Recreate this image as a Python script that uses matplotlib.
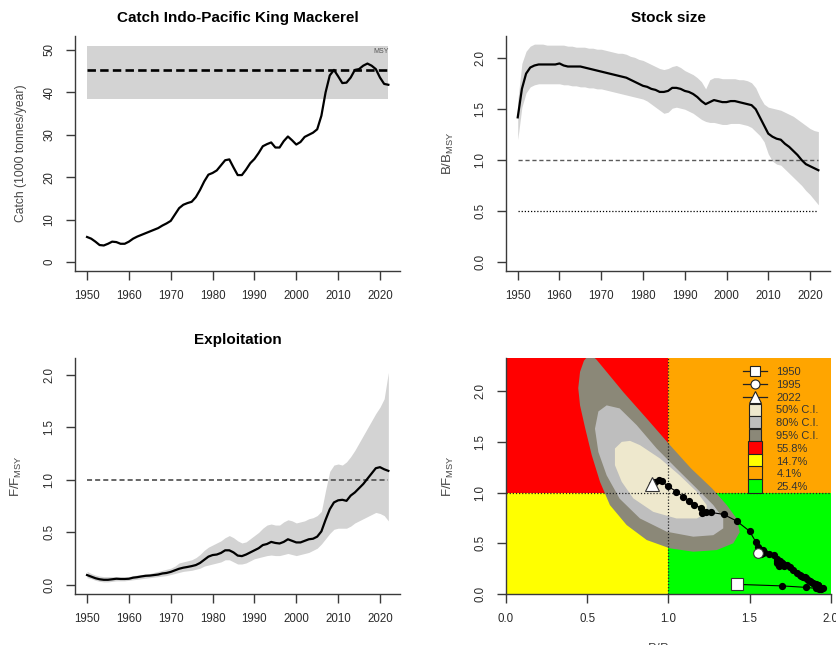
import numpy as np
import matplotlib
matplotlib.use("Agg")
import matplotlib.pyplot as plt
from matplotlib.lines import Line2D
from matplotlib.patches import Rectangle, Polygon

plt.rcParams['font.family'] = ['Liberation Sans', 'DejaVu Sans']
plt.rcParams['mathtext.fontset'] = 'custom'
plt.rcParams['mathtext.rm'] = 'Liberation Sans'
plt.rcParams['mathtext.it'] = 'Liberation Sans'

# ---------------- data ----------------
years = np.arange(1950, 2023)

catch = [5.9, 5.5, 4.8, 4.0, 3.9, 4.3, 4.8, 4.7, 4.3, 4.3,
         4.8, 5.5, 6.0, 6.4, 6.8, 7.2, 7.6, 8.0, 8.6, 9.1,
         9.7, 11.2, 12.7, 13.5, 13.9, 14.2, 15.3, 17.0, 19.0, 20.6,
         21.0, 21.6, 22.8, 24.0, 24.2, 22.3, 20.5, 20.5, 21.8, 23.3,
         24.3, 25.7, 27.3, 27.8, 28.2, 27.0, 27.0, 28.5, 29.6, 28.7,
         27.7, 28.3, 29.5, 30.0, 30.5, 31.3, 34.5, 40.0, 44.0, 45.3,
         43.8, 42.2, 42.3, 43.5, 45.3, 45.5, 46.3, 46.8, 46.3, 45.5,
         43.5, 42.0, 41.8]
msy = 45.3
msy_lo = 38.4
msy_hi = 51.0

bbmsy = [1.42, 1.70, 1.85, 1.91, 1.93, 1.94, 1.94, 1.94, 1.94, 1.94,
         1.95, 1.93, 1.92, 1.92, 1.92, 1.92, 1.91, 1.90, 1.89, 1.88,
         1.87, 1.86, 1.85, 1.84, 1.83, 1.82, 1.81, 1.79, 1.77, 1.75,
         1.73, 1.72, 1.70, 1.69, 1.67, 1.67, 1.68, 1.71, 1.71, 1.70,
         1.68, 1.67, 1.65, 1.62, 1.58, 1.55, 1.57, 1.59, 1.58, 1.57,
         1.57, 1.58, 1.58, 1.57, 1.56, 1.55, 1.54, 1.50, 1.42, 1.34,
         1.26, 1.23, 1.21, 1.20, 1.16, 1.13, 1.09, 1.05, 1.00, 0.96,
         0.94, 0.92, 0.90]
bb_hi = [1.58, 1.95, 2.07, 2.12, 2.14, 2.14, 2.14, 2.13, 2.13, 2.13,
         2.13, 2.13, 2.12, 2.12, 2.11, 2.11, 2.11, 2.10, 2.10, 2.09,
         2.09, 2.08, 2.07, 2.06, 2.05, 2.05, 2.04, 2.02, 2.01, 1.99,
         1.98, 1.96, 1.94, 1.92, 1.90, 1.89, 1.90, 1.92, 1.93, 1.91,
         1.88, 1.86, 1.84, 1.81, 1.77, 1.70, 1.79, 1.81, 1.81, 1.80,
         1.80, 1.80, 1.80, 1.79, 1.79, 1.78, 1.76, 1.71, 1.62, 1.55,
         1.52, 1.51, 1.50, 1.49, 1.47, 1.45, 1.43, 1.40, 1.37, 1.34,
         1.31, 1.29, 1.28]
bb_lo = [1.20, 1.52, 1.66, 1.72, 1.74, 1.75, 1.75, 1.75, 1.75, 1.75,
         1.75, 1.74, 1.74, 1.73, 1.73, 1.72, 1.72, 1.71, 1.71, 1.70,
         1.70, 1.69, 1.68, 1.67, 1.66, 1.65, 1.64, 1.63, 1.62, 1.61,
         1.60, 1.58, 1.55, 1.52, 1.49, 1.46, 1.47, 1.51, 1.52, 1.51,
         1.50, 1.48, 1.46, 1.43, 1.40, 1.38, 1.37, 1.37, 1.36, 1.35,
         1.35, 1.36, 1.36, 1.36, 1.35, 1.34, 1.32, 1.28, 1.24, 1.18,
         1.06, 0.99, 0.96, 0.95, 0.91, 0.87, 0.83, 0.79, 0.75, 0.70,
         0.66, 0.61, 0.56]

ffmsy = [0.095, 0.080, 0.065, 0.055, 0.050, 0.050, 0.055, 0.060, 0.058, 0.058,
         0.060, 0.070, 0.075, 0.082, 0.088, 0.090, 0.095, 0.100, 0.110, 0.115,
         0.125, 0.140, 0.155, 0.165, 0.172, 0.180, 0.190, 0.210, 0.240, 0.270,
         0.285, 0.290, 0.305, 0.330, 0.330, 0.310, 0.280, 0.275, 0.290, 0.310,
         0.330, 0.350, 0.380, 0.390, 0.410, 0.400, 0.395, 0.410, 0.435, 0.420,
         0.405, 0.405, 0.420, 0.435, 0.440, 0.460, 0.510, 0.620, 0.720, 0.785,
         0.805, 0.810, 0.800, 0.850, 0.880, 0.920, 0.960, 1.010, 1.060, 1.110,
         1.120, 1.100, 1.085]
ff_hi = [0.13, 0.11, 0.095, 0.085, 0.08, 0.08, 0.08, 0.08, 0.075, 0.075,
         0.08, 0.09, 0.095, 0.10, 0.105, 0.11, 0.12, 0.13, 0.14, 0.15,
         0.16, 0.18, 0.21, 0.22, 0.23, 0.24, 0.26, 0.29, 0.33, 0.36,
         0.38, 0.40, 0.42, 0.45, 0.47, 0.45, 0.42, 0.40, 0.41, 0.44,
         0.47, 0.50, 0.54, 0.57, 0.58, 0.57, 0.57, 0.60, 0.62, 0.61,
         0.59, 0.60, 0.61, 0.63, 0.64, 0.66, 0.70, 0.90, 1.08, 1.14,
         1.15, 1.14, 1.17, 1.22, 1.28, 1.35, 1.42, 1.49, 1.56, 1.63,
         1.69, 1.77, 2.02]
ff_lo = [0.07, 0.06, 0.045, 0.035, 0.03, 0.03, 0.035, 0.04, 0.04, 0.04,
         0.045, 0.05, 0.055, 0.06, 0.065, 0.07, 0.075, 0.08, 0.085, 0.09,
         0.10, 0.11, 0.12, 0.13, 0.135, 0.14, 0.15, 0.16, 0.18, 0.19,
         0.20, 0.21, 0.22, 0.24, 0.24, 0.22, 0.20, 0.20, 0.21, 0.23,
         0.25, 0.26, 0.27, 0.28, 0.285, 0.28, 0.28, 0.29, 0.30, 0.29,
         0.28, 0.29, 0.30, 0.31, 0.33, 0.35, 0.39, 0.44, 0.49, 0.53,
         0.54, 0.54, 0.54, 0.56, 0.59, 0.61, 0.63, 0.65, 0.67, 0.69,
         0.68, 0.66, 0.61]

# Kobe confidence contours (B/Bmsy, F/Fmsy)
ci95_b = [0.517, 0.48, 0.456, 0.445, 0.456, 0.487, 0.528, 0.579, 0.64, 0.743, 0.867,
          1.01, 1.154, 1.298, 1.40, 1.44, 1.42, 1.36, 1.27, 1.14, 1.01, 0.867,
          0.723, 0.62, 0.558]
ci95_f = [2.37, 2.30, 2.19, 2.03, 1.86, 1.64, 1.37, 1.106, 0.877, 0.68, 0.532,
          0.45, 0.417, 0.433, 0.50, 0.61, 0.745, 0.877, 1.04, 1.238, 1.468, 1.73,
          1.99, 2.19, 2.31]
ci80_b = [0.62, 0.569, 0.548, 0.569, 0.62, 0.70, 0.825, 0.99, 1.154, 1.277, 1.338,
          1.338, 1.277, 1.175, 1.05, 0.928, 0.805, 0.70]
ci80_f = [1.86, 1.80, 1.63, 1.40, 1.17, 0.94, 0.745, 0.614, 0.565, 0.58, 0.647,
          0.745, 0.877, 1.04, 1.238, 1.435, 1.665, 1.83]
ci50_b = [0.713, 0.671, 0.671, 0.713, 0.784, 0.907, 1.05, 1.175, 1.236, 1.236,
          1.175, 1.07, 0.948, 0.825, 0.764]
ci50_f = [1.50, 1.435, 1.27, 1.106, 0.943, 0.81, 0.745, 0.745, 0.795, 0.877,
          1.008, 1.17, 1.337, 1.468, 1.51]

kobe_labels = ["1950", "1995", "2022", "50% C.I.", "80% C.I.", "95% C.I.",
               "55.8%", "14.7%", "4.1%", "25.4%"]

# ---------------- style ----------------
AX = '#3a3a3a'
TXT = '#2a2a2a'
BAND = '#d3d3d3'
W, H = 837, 645

fig = plt.figure(figsize=(W / 100, H / 100), dpi=100)


def make_axes(x0, x1, y0, y1):
    return fig.add_axes([x0 / W, 1 - y1 / H, (x1 - x0) / W, (y1 - y0) / H])


def style(ax):
    for s in ['top', 'right']:
        ax.spines[s].set_visible(False)
    for s in ['left', 'bottom']:
        ax.spines[s].set_color(AX)
        ax.spines[s].set_linewidth(1.0)
    ax.tick_params(direction='out', length=6.5, width=1.0, color=AX,
                   labelsize=8.3, labelcolor=TXT, pad=7.5)
    for lab in ax.get_yticklabels():
        lab.set_rotation(90)
        lab.set_va('center')


year_ticks = [1950, 1960, 1970, 1980, 1990, 2000, 2010, 2020]
xl = (1947.12, 2024.88)
TFS = 11

# Panel 1: catch
ax1 = make_axes(75, 400.4, 36, 270.7)
ax1.fill_between([years[0], years[-1]], msy_lo, msy_hi, color=BAND, lw=0)
ax1.plot([years[0], years[-1]], [msy, msy], color='black', lw=1.9, dashes=(3.2, 1.6))
ax1.plot(years, catch, color='black', lw=1.6)
ax1.text(2020.2, 49.6, "MSY", fontsize=5, color='#555555', ha='center', va='center')
ax1.set_xlim(*xl)
ax1.set_ylim(-2.05, 53.3)
ax1.set_xticks(year_ticks)
ax1.set_yticks([0, 10, 20, 30, 40, 50])
ax1.set_yticklabels(['0', '10', '20', '30', '40', '50'])
ax1.set_title("Catch Indo-Pacific King Mackerel", fontsize=TFS, fontweight='bold', pad=10)
ax1.set_ylabel("Catch (1000 tonnes/year)", fontsize=8.7, color='#444444', labelpad=12)
style(ax1)

# Panel 2: stock size
ax2 = make_axes(505.7, 830.4, 36, 270.7)
ax2.fill_between(years, bb_lo, bb_hi, color=BAND, lw=0)
ax2.plot([years[0], years[-1]], [1.0, 1.0], color='#5a5a5a', lw=1.0, dashes=(3, 2))
ax2.plot([years[0], years[-1]], [0.5, 0.5], color='black', lw=0.9, dashes=(1, 1.5))
ax2.plot(years, bbmsy, color='black', lw=1.6)
ax2.set_xlim(*xl)
ax2.set_ylim(-0.088, 2.22)
ax2.set_xticks(year_ticks)
ax2.set_yticks([0, 0.5, 1.0, 1.5, 2.0])
ax2.set_yticklabels(['0.0', '0.5', '1.0', '1.5', '2.0'])
ax2.set_title("Stock size", fontsize=TFS, fontweight='bold', pad=10)
ax2.set_ylabel(r"B/B$_{\mathregular{MSY}}$", fontsize=9.5, color='#444444', labelpad=13)
style(ax2)

# Panel 3: exploitation
ax3 = make_axes(75, 400.4, 357.7, 594)
ax3.fill_between(years, ff_lo, ff_hi, color=BAND, lw=0)
ax3.plot([years[0], years[-1]], [1.0, 1.0], color='#5a5a5a', lw=1.3, dashes=(2.8, 1.7))
ax3.plot(years, ffmsy, color='black', lw=1.6)
ax3.set_xlim(*xl)
ax3.set_ylim(-0.085, 2.16)
ax3.set_xticks(year_ticks)
ax3.set_yticks([0, 0.5, 1.0, 1.5, 2.0])
ax3.set_yticklabels(['0.0', '0.5', '1.0', '1.5', '2.0'])
ax3.set_title("Exploitation", fontsize=TFS, fontweight='bold', pad=10)
ax3.set_ylabel(r"F/F$_{\mathregular{MSY}}$", fontsize=9.5, color='#444444', labelpad=14)
style(ax3)

# Panel 4: Kobe
ax4 = make_axes(506, 830.7, 357.7, 594)
xmax, ymax = 2.0, 2.33
ax4.set_xlim(0, xmax)
ax4.set_ylim(0, ymax)
ax4.add_patch(Rectangle((0, 1), 1, ymax - 1, color='#ff0000', lw=0, zorder=0))
ax4.add_patch(Rectangle((0, 0), 1, 1, color='#ffff00', lw=0, zorder=0))
ax4.add_patch(Rectangle((1, 1), xmax - 1, ymax - 1, color='#ffa500', lw=0, zorder=0))
ax4.add_patch(Rectangle((1, 0), xmax - 1, 1, color='#00ff00', lw=0, zorder=0))
ax4.add_patch(Polygon(np.column_stack([ci95_b, ci95_f]), closed=True, color='#8b8878', lw=0, zorder=1))
ax4.add_patch(Polygon(np.column_stack([ci80_b, ci80_f]), closed=True, color='#bebebe', lw=0, zorder=2))
ax4.add_patch(Polygon(np.column_stack([ci50_b, ci50_f]), closed=True, color='#eee8cd', lw=0, zorder=3))
ax4.axvline(1.0, color='#222222', lw=0.9, dashes=(1, 1.5), zorder=4)
ax4.axhline(1.0, color='#222222', lw=0.9, dashes=(1, 1.5), zorder=4)
ax4.plot(bbmsy, ffmsy, color='black', lw=0.8, marker='o', markersize=4.2, zorder=5)
i95 = list(years).index(1995)
ax4.plot(bbmsy[0], ffmsy[0], marker='s', ms=8, mfc='white', mec='#333333', mew=0.8, zorder=6)
ax4.plot(bbmsy[i95], ffmsy[i95], marker='o', ms=7, mfc='white', mec='#333333', mew=0.8, zorder=6)
ax4.plot(bbmsy[-1], ffmsy[-1], marker='^', ms=10, mfc='white', mec='#333333', mew=0.8, zorder=6)
ax4.set_xticks([0, 0.5, 1.0, 1.5, 2.0])
ax4.set_xticklabels(['0.0', '0.5', '1.0', '1.5', '2.0'])
ax4.set_yticks([0, 0.5, 1.0, 1.5, 2.0])
ax4.set_yticklabels(['0.0', '0.5', '1.0', '1.5', '2.0'])
ax4.set_ylabel(r"F/F$_{\mathregular{MSY}}$", fontsize=9.5, color='#444444', labelpad=13)
ax4.set_xlabel(r"B/B$_{\mathregular{MSY}}$", fontsize=9.5, color='#444444', labelpad=12)
style(ax4)

leg_face = ['white', 'white', 'white', '#eee8cd', '#bebebe', '#8b8878',
            '#ff0000', '#ffff00', '#ffa500', '#00ff00']
leg_marker = ['s', 'o', '^'] + ['s'] * 7
leg_ms = [7, 6.5, 8, 8, 8, 8, 9.5, 9.5, 9.5, 9.5]
handles = []
for i, lab in enumerate(kobe_labels):
    ls = '-' if i < 3 else 'None'
    handles.append(Line2D([0], [0], linestyle=ls, color='#222222', lw=0.9,
                          marker=leg_marker[i], markersize=leg_ms[i],
                          markerfacecolor=leg_face[i], markeredgecolor='#222222',
                          markeredgewidth=0.8, label=lab))
ax4.legend(handles=handles, loc='upper left', bbox_to_anchor=(0.730, 0.960),
           frameon=False, fontsize=8, labelspacing=0.25, handlelength=2.2,
           handletextpad=0.8, borderpad=0, borderaxespad=0, labelcolor='#333333')

fig.savefig("out.png", dpi=100)
